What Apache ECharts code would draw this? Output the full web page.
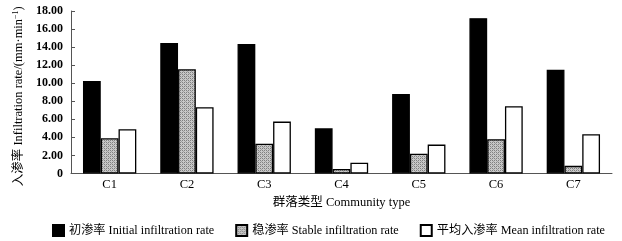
<!DOCTYPE html>
<html><head><meta charset="utf-8">
<script src="https://cdn.jsdelivr.net/npm/echarts@6/dist/echarts.min.js"></script>
<style>html,body{margin:0;padding:0;background:#fff}#c{width:622px;height:241px}</style>
</head><body><div id="c"></div>
<script>
const categories = ['C1','C2','C3','C4','C5','C6','C7'];
const initialRate = [10.25, 14.45, 14.35, 5.0, 8.8, 17.2, 11.5];
const stableRate = [3.9, 11.55, 3.3, 0.5, 2.2, 3.8, 0.85];
const meanRate = [4.9, 7.35, 5.75, 1.2, 3.2, 7.45, 4.35];
const yTicks = [0, 2, 4, 6, 8, 10, 12, 14, 16, 18];

const pc = document.createElement('canvas');
pc.width = 4; pc.height = 4;
const g = pc.getContext('2d');
g.fillStyle = '#c8c8c8'; g.fillRect(0,0,4,4);
g.fillStyle = '#808080';
g.fillRect(0,0,1,1); g.fillRect(2,2,1,1); g.fillRect(2,0,1,1); g.fillRect(0,2,1,1);
g.fillStyle = '#a0a0a0';
g.fillRect(1,1,1,1); g.fillRect(3,3,1,1);

const font = '"Liberation Serif", "Noto Sans CJK SC", serif';
const chart = echarts.init(document.getElementById('c'), null, {renderer:'canvas'});
const barStyle = (c) => ({color: c, borderColor: '#000', borderWidth: 1.3});
chart.setOption({
  animation: false,
  textStyle: {fontFamily: font, color: '#000'},
  grid: {left: 71, right: 10, top: 11, bottom: 67.5},
  legend: {
    left: 47, top: 219, itemWidth: 11, itemHeight: 11, itemGap: 21,
    icon: 'rect',
    textStyle: {fontFamily: font, fontSize: 12.2, color: '#000'},
    data: ['初渗率 Initial infiltration rate', '稳渗率 Stable infiltration rate', '平均入渗率 Mean infiltration rate']
  },
  xAxis: {
    type: 'category', data: categories,
    name: '群落类型 Community type', nameLocation: 'middle', nameGap: 23,
    nameTextStyle: {fontFamily: font, fontSize: 12.5, color: '#000'},
    axisLine: {lineStyle: {color: '#555', width: 1}},
    axisTick: {inside: true, length: 4, lineStyle: {color: '#555'}},
    axisLabel: {fontFamily: font, fontSize: 12.5, color: '#000', margin: 5}
  },
  yAxis: {
    type: 'value', min: 0, max: 18, interval: 2,
    name: '{a|入渗率 Infiltration rate/(mm·min}{s|−1}{a|)}', nameLocation: 'middle', nameGap: 44,
    nameTextStyle: {padding: [0, 8, 0, 0], rich: {a: {fontFamily: font, fontSize: 12.5, color: '#000'}, s: {fontFamily: font, fontSize: 8, color: '#000', verticalAlign: 'top', padding:[0,0,6,0]}}},
    splitLine: {show: false},
    axisLine: {show: true, lineStyle: {color: '#555', width: 1}},
    axisTick: {show: true, inside: true, length: 4, lineStyle: {color: '#555'}},
    axisLabel: {fontFamily: font, fontSize: 12, fontWeight: 'bold', color: '#000', margin: 8,
      formatter: v => yTicks.includes(v) ? (v === 0 ? '0' : v.toFixed(2)) : ''}
  },
  series: [
    {name: '初渗率 Initial infiltration rate', type: 'bar', data: initialRate, itemStyle: barStyle('#000'), barGap: '0%', barCategoryGap: '31%'},
    {name: '稳渗率 Stable infiltration rate', type: 'bar', data: stableRate, itemStyle: barStyle({image: pc, repeat: 'repeat'})},
    {name: '平均入渗率 Mean infiltration rate', type: 'bar', data: meanRate, itemStyle: barStyle('#fff')}
  ]
});
</script></body></html>
